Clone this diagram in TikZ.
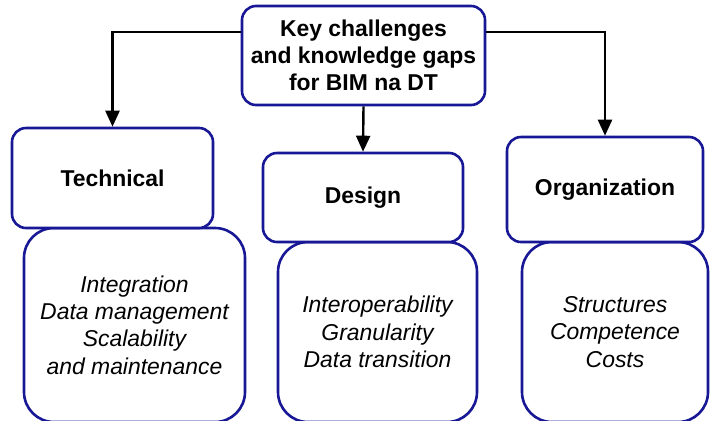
\documentclass[tikz,border=0pt]{standalone}
\usepackage{fontspec}
\setmainfont{Liberation Sans}
\usetikzlibrary{arrows.meta}
\definecolor{frameblue}{RGB}{24,24,150}

\tikzset{
	headbox/.style={draw=frameblue, line width=2.6bp, fill=white, rounded corners=14bp, align=center, font=\fontsize{23}{27}\selectfont\bfseries, inner sep=0pt},
	listbox/.style={draw=frameblue, line width=2.6bp, fill=white, rounded corners=30bp, align=center, font=\fontsize{23}{27.5}\selectfont\itshape, inner sep=0pt},
	link/.style={black, line width=2.4bp, -{Triangle[length=16bp,width=14bp]}}
}

\begin{document}
\begin{tikzpicture}[x=1bp, y=-1bp]
	\useasboundingbox (0,0) rectangle (710,420);

	% lists
	\node[listbox, minimum width=221bp, minimum height=194bp] (techlist) at (134.5,325) {Integration\\Data management\\Scalability\\and maintenance};
	\node[listbox, minimum width=199bp, minimum height=180bp] (designlist) at (377.5,332) {Interoperability\\Granularity\\Data transition};
	\node[listbox, minimum width=186bp, minimum height=180bp] (orglist) at (615,332) {Structures\\Competence\\Costs};

	% headers
	\node[headbox, minimum width=243bp, minimum height=99bp] (top) at (363.5,55.5) {Key challenges\\and knowledge gaps\\for BIM na DT};
	\node[headbox, minimum width=201bp, minimum height=100bp] (tech) at (112.5,178) {Technical};
	\node[headbox, minimum width=200bp, minimum height=89bp] (design) at (363,197.5) {Design};
	\node[headbox, minimum width=196bp, minimum height=105bp] (org) at (605,189.5) {Organization};

	% arrows
	\draw[link] ([yshift=23.5bp]top.west) -| (tech.north);
	\draw[link] ([yshift=23.5bp]top.east) -| (org.north);
	\draw[link] (top.south) -- (design.north);
\end{tikzpicture}
\end{document}
